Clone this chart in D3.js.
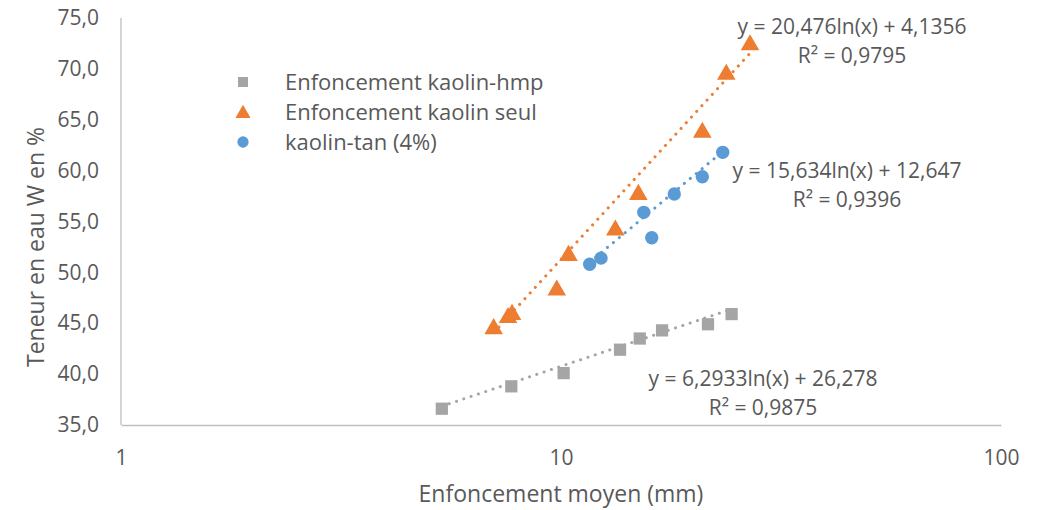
<!DOCTYPE html>
<html>
<head>
<meta charset="utf-8">
<script src="https://cdn.jsdelivr.net/npm/d3@7"></script>
<style>
  body { margin: 0; background: #fff; }
  text { font-family: "Open Sans", sans-serif; fill: #595959; }
</style>
</head>
<body>
<svg id="chart"></svg>
<script>
// series values
const seriesNames = ["Enfoncement kaolin-hmp", "Enfoncement kaolin seul", "kaolin-tan (4%)"];
const hmpX = [5.36, 7.71, 10.14, 13.62, 15.10, 16.97, 21.58, 24.42];
const hmpY = [36.6, 38.8, 40.1, 42.4, 43.5, 44.3, 44.9, 45.9];
const seulX = [7.03, 7.58, 7.74, 9.78, 10.40, 13.29, 14.99, 20.95, 23.75, 26.89];
const seulY = [44.6, 45.7, 46.0, 48.4, 51.8, 54.3, 57.8, 63.9, 69.6, 72.5];
const tanX = [11.62, 12.33, 15.42, 16.08, 18.09, 20.95, 23.31];
const tanY = [50.8, 51.4, 55.9, 53.4, 57.7, 59.4, 61.8];
// trendline y = a ln(x) + b
const trendA = [6.2933, 20.476, 15.634];
const trendB = [26.278, 4.1356, 12.647];
const trendR2 = ["0,9875", "0,9795", "0,9396"];
const xTicks = [1, 10, 100];
const yTicks = [35, 40, 45, 50, 55, 60, 65, 70, 75];

const width = 1045, height = 510;
const colors = ["#A5A5A5", "#ED7D31", "#5B9BD5"];
const shapes = [d3.symbolSquare, d3.symbolTriangle, d3.symbolCircle];

const svg = d3.select("#chart").attr("width", width).attr("height", height);

const x = d3.scaleLog().domain([1, 100]).range([121, 1001]);
const y = d3.scaleLinear().domain([35, 75]).range([425, 18]);

const fr = d3.formatLocale({decimal: ",", thousands: " ", grouping: [3], currency: ["", ""]});

// axes
const yAxis = svg.append("g").attr("transform", "translate(121,0)")
  .call(d3.axisLeft(y).tickValues(yTicks).tickSize(0).tickPadding(22).tickFormat(fr.format(".1f")));
const xAxis = svg.append("g").attr("transform", "translate(0,425)")
  .call(d3.axisBottom(x).tickValues(xTicks).tickSize(0).tickPadding(25).tickFormat(d3.format("d")));
[yAxis, xAxis].forEach(function(a){
  a.select(".domain").attr("stroke", "#BFBFBF").attr("stroke-width", 1.3);
  a.selectAll("text").style("font-size", "21px").attr("fill", "#595959");
});
yAxis.select(".domain").remove();
svg.append("line").attr("x1", 121).attr("x2", 121).attr("y1", y(75)).attr("y2", y(35))
  .attr("stroke", "#BFBFBF").attr("stroke-width", 1.3);

// axis titles
svg.append("text").attr("transform", "translate(44,247) rotate(-90)")
  .attr("text-anchor", "middle").style("font-size", "23px").text("Teneur en eau W en %");
svg.append("text").attr("x", 561).attr("y", 502)
  .attr("text-anchor", "middle").style("font-size", "23px").text("Enfoncement moyen (mm)");

const series = [
  {xs: hmpX, ys: hmpY},
  {xs: seulX, ys: seulY},
  {xs: tanX, ys: tanY}
];

// trendlines (dotted)
series.forEach(function(s, i){
  const x0 = d3.min(s.xs), x1 = d3.max(s.xs);
  const f = function(v){ return trendA[i] * Math.log(v) + trendB[i]; };
  svg.append("line")
    .attr("x1", x(x0)).attr("y1", y(f(x0)))
    .attr("x2", x(x1)).attr("y2", y(f(x1)))
    .attr("stroke", colors[i]).attr("stroke-width", 3)
    .attr("stroke-linecap", "round").attr("stroke-dasharray", "0.1 7.6");
});

// markers
const sizes = [150, 150, 140];
series.forEach(function(s, i){
  svg.append("g").selectAll("path")
    .data(s.xs.map(function(v, k){ return [v, s.ys[k]]; }))
    .enter().append("path")
    .attr("d", d3.symbol().type(shapes[i]).size(sizes[i]))
    .attr("transform", function(d){
      const dy = i === 1 ? 1.5 : 0;
      return "translate(" + x(d[0]) + "," + (y(d[1]) + dy) + ")";
    })
    .attr("fill", colors[i]);
});

// trendline labels
const labelPos = [[763, 386], [852, 34], [847, 178]];
series.forEach(function(s, i){
  const t = svg.append("text").attr("text-anchor", "middle").style("font-size", "21px");
  t.append("tspan").attr("x", labelPos[i][0]).attr("y", labelPos[i][1])
    .text("y = " + fr.format("")(trendA[i]) + "ln(x) + " + fr.format("")(trendB[i]));
  t.append("tspan").attr("x", labelPos[i][0]).attr("y", labelPos[i][1] + 29)
    .text("R² = " + trendR2[i]);
});

// legend
const legend = svg.append("g").attr("transform", "translate(243,82)")
  .selectAll("g").data(seriesNames).enter().append("g")
  .attr("transform", function(d, i){ return "translate(0," + i * 30 + ")"; });
legend.append("path")
  .attr("d", function(d, i){ return d3.symbol().type(shapes[i]).size(100)(); })
  .attr("transform", function(d, i){ return i === 1 ? "translate(0,1.5)" : null; })
  .attr("fill", function(d, i){ return colors[i]; });
legend.append("text").attr("x", 42).attr("y", 8).style("font-size", "22px")
  .text(function(d){ return d; });
</script>
</body>
</html>
